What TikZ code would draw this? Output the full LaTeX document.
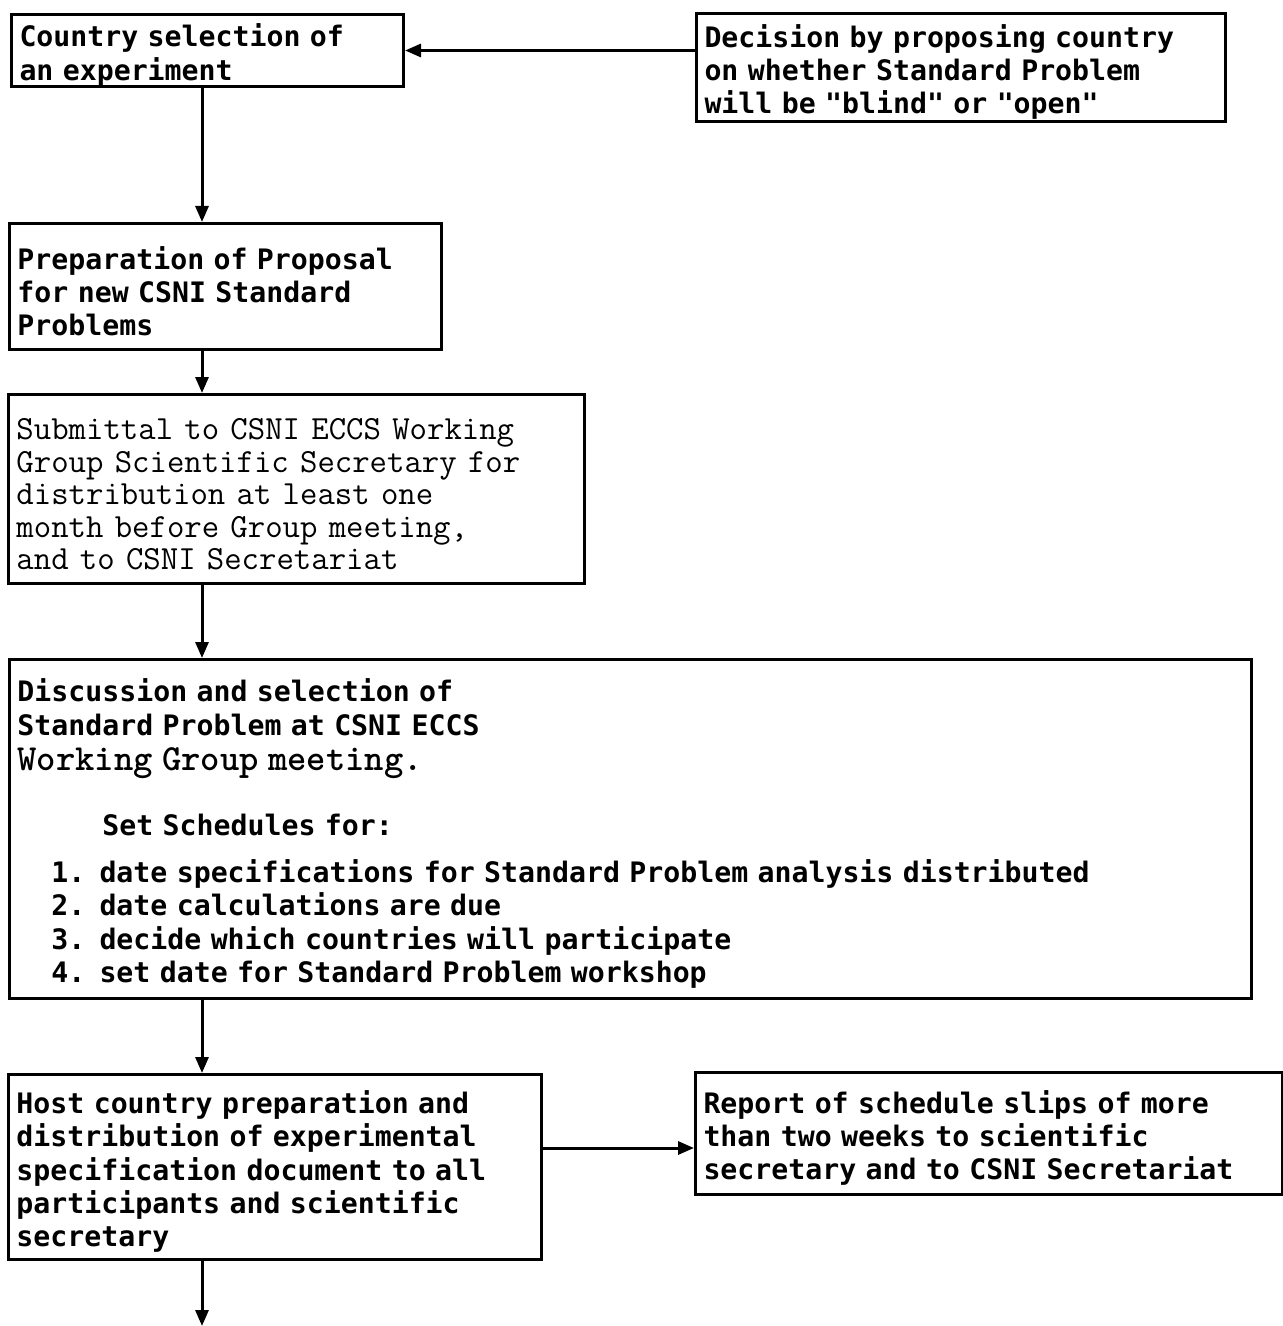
\documentclass[tikz,border=0pt]{standalone}
\usepackage{fontspec}
\usetikzlibrary{arrows.meta}

\newfontfamily\ocrfont{DejaVu Sans Mono}
\newcommand\ocr{\ocrfont\bfseries\fontsize{14.1pt}{16.6pt}\selectfont}
\newcommand\cour{\ttfamily\fontsize{16.9pt}{16.3pt}\selectfont}

\tikzset{
  procbox/.style={draw, line width=1.5pt, anchor=north west, align=left,
    inner xsep=4pt, inner ysep=0pt, font=\ocr,
    execute at begin node={\rule{0pt}{16pt}}},
  flow/.style={line width=1.5pt, -{Triangle[length=8pt,width=6.5pt]}}
}

\begin{document}
\begin{tikzpicture}[x=0.5pt, y=-0.5pt]
   \useasboundingbox (0,0) rectangle (1283,1326);

   % boxes, top to bottom
   \node[procbox, text width=188pt, minimum height=36pt] (sel) at (10,13)
      {Country selection of\\an experiment};
   \node[procbox, text width=256.5pt, minimum height=54pt] (dec) at (695,12)
      {Decision by proposing country\\on whether Standard Problem\\will be "blind" or "open"};
   \node[procbox, text width=208pt, minimum height=63pt] (prep) at (8,222)
      {Preparation of Proposal\\for new CSNI Standard\\Problems};
   \node[procbox, text width=280pt, minimum height=94.5pt, font=\cour] (sub) at (7,393)
      {Submittal to CSNI ECCS Working\\Group Scientific Secretary for\\distribution at least one\\month before Group meeting,\\and to CSNI Secretariat};
   \node[procbox, text width=613pt, minimum height=169.5pt] (disc) at (8,658)
      {Discussion and selection of\\
       Standard Problem at CSNI ECCS\\[1pt]
       {\ttfamily\fontsize{18.4pt}{18pt}\selectfont Working Group meeting.}\\[16pt]
       \phantom{00000}Set Schedules for:\\[7pt]
       \phantom{00}1. date specifications for Standard Problem analysis distributed\\
       \phantom{00}2. date calculations are due\\
       \phantom{00}3. decide which countries will participate\\
       \phantom{00}4. set date for Standard Problem workshop};
   \node[procbox, text width=258.5pt, minimum height=92.5pt] (host) at (7,1073)
      {Host country preparation and\\distribution of experimental\\specification document to all\\participants and scientific\\secretary};
   \node[procbox, text width=285.5pt, minimum height=61pt] (rep) at (694,1071)
      {Report of schedule slips of more\\than two weeks to scientific\\secretary and to CSNI Secretariat};

   % connectors
   \coordinate (col) at (202,0);
   \coordinate (slip) at (0,1148);
   \coordinate (out) at (202,1326);
   \foreach \a/\b in {sel/prep, prep/sub, sub/disc, disc/host}
      \draw[flow] (\a.south -| col) -- (\b.north -| col);
   \draw[flow] (host.south -| col) -- (out);
   \draw[flow] (dec.west |- sel.east) -- (sel.east);
   \draw[flow] (host.east |- slip) -- (rep.west |- slip);
\end{tikzpicture}
\end{document}
